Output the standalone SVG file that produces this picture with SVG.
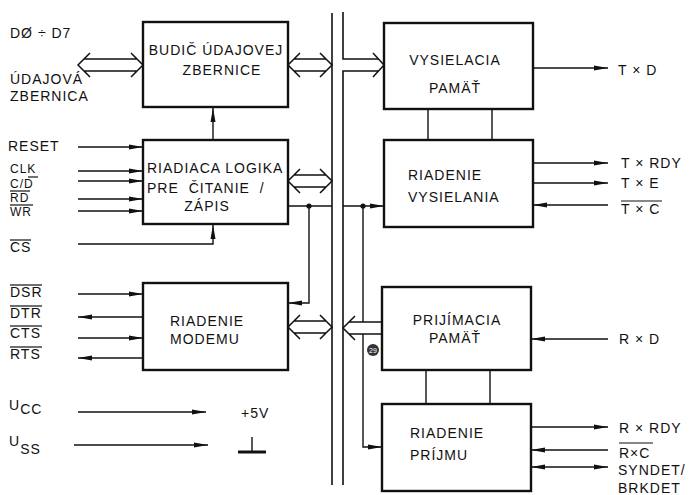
<svg xmlns="http://www.w3.org/2000/svg" width="694" height="495" viewBox="0 0 694 495">
<style>
.bx{fill:#fff;stroke:#111;stroke-width:2.4}
.ln{stroke:#111;stroke-width:1.4;fill:none}
.bus{stroke:#111;stroke-width:1.6;fill:none}
.ov{stroke:#111;stroke-width:1.2}
.hf{fill:#fff;stroke:none}
.hs{fill:none;stroke:#111;stroke-width:1.5}
.t{font-family:"Liberation Sans",Arial,sans-serif;font-size:14px;letter-spacing:1px;fill:#111}
.s{font-size:12px}
.m{text-anchor:middle}
</style>
<defs>
<marker id="ah" viewBox="0 0 14 6" refX="14" refY="3" markerWidth="14" markerHeight="6" orient="auto-start-reverse" markerUnits="userSpaceOnUse">
<path d="M0,0.5 L14,3 L0,5.5 z" fill="#111"/>
</marker>
</defs>
<rect width="694" height="495" fill="#fff"/>

<g id="connectors">
<path class="bus" d="M332,13 V485"/>
<path class="bus" d="M343,12 V59 H378.5"/>
<path class="bus" d="M343,485 V71 H378.5"/>
<path class="hs" d="M373,53 L384,65 L373,77"/>

<path class="ln" d="M428,109 V140 M492,109 V140 M426,370 V404 M490,370 V404"/>
<path class="ln" d="M213,140 V108" marker-end="url(#ah)"/>
<path class="ln" d="M78,244 H213 V225" marker-end="url(#ah)"/>

<path class="ln" d="M78,147 H143" marker-end="url(#ah)"/>
<path class="ln" d="M78,171 H143" marker-end="url(#ah)"/>
<path class="ln" d="M78,181 H143" marker-end="url(#ah)"/>
<path class="ln" d="M78,199 H143" marker-end="url(#ah)"/>
<path class="ln" d="M78,211 H143" marker-end="url(#ah)"/>
<path class="ln" d="M78,294 H143" marker-end="url(#ah)"/>
<path class="ln" d="M143,317 H78" marker-end="url(#ah)"/>
<path class="ln" d="M78,338 H143" marker-end="url(#ah)"/>
<path class="ln" d="M143,358 H78" marker-end="url(#ah)"/>
<path class="ln" d="M78,412 H206" marker-end="url(#ah)"/>
<path class="ln" d="M74,445 H208" marker-end="url(#ah)"/>

<path class="ln" d="M288,206 H332"/>
<path class="ln" d="M343,206 H384" marker-end="url(#ah)"/>
<path class="ln" d="M309,206 V303 H288" marker-end="url(#ah)"/>
<path class="ln" d="M363,206 V447 H382" marker-end="url(#ah)"/>
<circle cx="309" cy="206" r="2.6" fill="#111"/>
<circle cx="363" cy="206" r="2.6" fill="#111"/>

<path class="ln" d="M533,68 H608" marker-end="url(#ah)"/>
<path class="ln" d="M533,163 H608" marker-end="url(#ah)"/>
<path class="ln" d="M533,183 H608" marker-end="url(#ah)"/>
<path class="ln" d="M608,205 H533" marker-end="url(#ah)"/>
<path class="ln" d="M608,339 H531" marker-end="url(#ah)"/>
<path class="ln" d="M531,427 H608" marker-end="url(#ah)"/>
<path class="ln" d="M608,450 H531" marker-end="url(#ah)"/>
<path class="ln" d="M531,467 H608" marker-start="url(#ah)" marker-end="url(#ah)"/>

<polygon class="hf" points="78,65 84,59 137,59 143,65 137,71 84,71"/>
<path class="hs" d="M90,53 L78,65 L90,77 M131,53 L143,65 L131,77 M84,59 H137 M84,71 H137"/>
<polygon class="hf" points="288,65 294,59 326,59 332,65 326,71 294,71"/>
<path class="hs" d="M300,53 L288,65 L300,77 M320,53 L332,65 L320,77 M294,59 H326 M294,71 H326"/>
<polygon class="hf" points="288,181 294,175 326,175 332,181 326,187 294,187"/>
<path class="hs" d="M300,169 L288,181 L300,193 M320,169 L332,181 L320,193 M294,175 H326 M294,187 H326"/>
<polygon class="hf" points="288,327 294,321 326,321 332,327 326,333 294,333"/>
<path class="hs" d="M300,315 L288,327 L300,339 M320,315 L332,327 L320,339 M294,321 H326 M294,333 H326"/>
<polygon class="hf" points="343,328 349,322 382,322 382,334 349,334"/>
<path class="hs" d="M355,316 L343,328 L355,340 M349,322 H382 M349,334 H382"/>
</g>

<g id="budic">
<rect class="bx" x="143" y="22" width="145" height="85"/>
<text class="t m" x="216" y="55">BUDIČ ÚDAJOVEJ</text>
<text class="t m" x="222" y="75">ZBERNICE</text>
</g>
<g id="riadiaca">
<rect class="bx" x="143" y="140" width="145" height="84"/>
<text class="t" x="147" y="173">RIADIACA LOGIKA</text>
<text class="t" x="147" y="193" word-spacing="5">PRE ČITANIE /</text>
<text class="t m" x="207" y="211">ZÁPIS</text>
</g>
<g id="modem">
<rect class="bx" x="143" y="283" width="145" height="87"/>
<text class="t" x="170" y="326">RIADENIE</text>
<text class="t" x="170" y="344">MODEMU</text>
</g>
<g id="vys-pamat">
<rect class="bx" x="384" y="23" width="149" height="86"/>
<text class="t m" x="455" y="65">VYSIELACIA</text>
<text class="t m" x="455" y="93">PAMÄŤ</text>
</g>
<g id="vys-riadenie">
<rect class="bx" x="384" y="140" width="149" height="87"/>
<text class="t" x="408" y="180">RIADENIE</text>
<text class="t" x="408" y="202">VYSIELANIA</text>
</g>
<g id="prij-pamat">
<rect class="bx" x="382" y="287" width="149" height="83"/>
<text class="t m" x="457" y="325">PRIJÍMACIA</text>
<text class="t m" x="455" y="343">PAMÄŤ</text>
</g>
<g id="prij-riadenie">
<rect class="bx" x="382" y="404" width="149" height="87"/>
<text class="t" x="410" y="438">RIADENIE</text>
<text class="t" x="410" y="460">PRÍJMU</text>
</g>

<g id="labels-left">
<text class="t" x="10" y="38">DØ ÷ D7</text>
<text class="t" x="10" y="84">ÚDAJOVÁ</text>
<text class="t" x="10" y="101">ZBERNICA</text>
<text class="t" x="8" y="151">RESET</text>
<text class="t s" x="10" y="173">CLK</text>
<text class="t s" x="10" y="188">C/D</text>
<line class="ov" x1="28" y1="177" x2="38" y2="177"/>
<text class="t s" x="10" y="202">RD</text>
<line class="ov" x1="10" y1="191" x2="30" y2="191"/>
<text class="t s" x="10" y="216">WR</text>
<line class="ov" x1="10" y1="205" x2="33" y2="205"/>
<text class="t" x="10" y="252">CS</text>
<line class="ov" x1="10" y1="240" x2="31" y2="240"/>
<text class="t" x="10" y="297">DSR</text>
<line class="ov" x1="10" y1="285" x2="42" y2="285"/>
<text class="t" x="10" y="318">DTR</text>
<line class="ov" x1="10" y1="306" x2="42" y2="306"/>
<text class="t" x="10" y="338">CTS</text>
<line class="ov" x1="10" y1="326" x2="42" y2="326"/>
<text class="t" x="10" y="359">RTS</text>
<line class="ov" x1="10" y1="347" x2="42" y2="347"/>
<text class="t" x="9" y="410" font-size="12">U<tspan dy="4">CC</tspan></text>
<text class="t" x="9" y="446" font-size="12">U<tspan dy="8">SS</tspan></text>
<text class="t" x="241" y="418">+5V</text>
<path class="ln" d="M252,437 V452"/>
<path d="M238,452 H266" stroke="#111" stroke-width="3"/>
</g>

<g id="labels-right">
<text class="t" x="618" y="75">T × D</text>
<text class="t" x="621" y="168">T × RDY</text>
<text class="t" x="621" y="188">T × E</text>
<text class="t" x="621" y="214">T × C</text>
<line class="ov" x1="621" y1="201" x2="662" y2="201"/>
<text class="t" x="619" y="344">R × D</text>
<text class="t" x="619" y="433">R × RDY</text>
<text class="t" x="619" y="458">R×C</text>
<line class="ov" x1="619" y1="443" x2="653" y2="443"/>
<text class="t" x="618" y="475">SYNDET/</text>
<text class="t" x="618" y="493">BRKDET</text>
<circle cx="373" cy="350" r="6" fill="#333"/>
<text x="373" y="352.5" text-anchor="middle" font-family="Liberation Sans, sans-serif" font-size="7" fill="#fff">29</text>
</g>
</svg>
